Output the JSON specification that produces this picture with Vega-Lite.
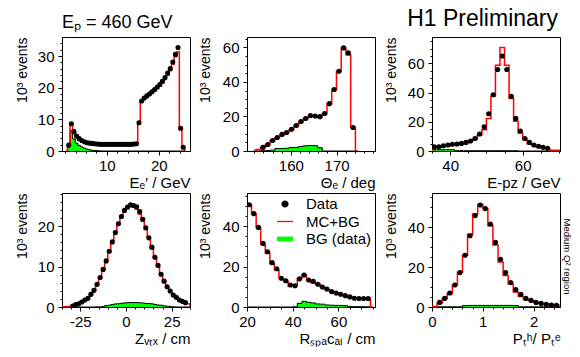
{
 "$schema": "https://vega.github.io/schema/vega-lite/v6.json",
 "background": "white",
 "padding": {"left": 14, "top": 7, "right": 0, "bottom": 0},
 "config": {
  "view": {"stroke": "black", "strokeWidth": 1},
  "font": "Liberation Sans",
  "axis": {"labelFont": "Liberation Sans", "titleFont": "Liberation Sans", "labelFontSize": 15, "titleFontSize": 15, "titleFontWeight": "normal", "labelColor": "black", "titleColor": "black", "tickColor": "black", "domainColor": "black", "grid": false, "labelOverlap": false, "labelFlush": false, "tickWidth": 1, "domainWidth": 1},
  "axisX": {"labelPadding": 3},
  "axisY": {"labelPadding": 4, "titleFontSize": 14},
  "title": {"font": "Liberation Sans", "fontWeight": "normal", "color": "black"}
 },
 "datasets": {
  "e": [
   {"x":2.2,"m":0,"b":0},
   {"x":2.7,"d":1.9,"m":1.9,"b":1.3},
   {"x":3.2,"d":8.6,"m":8.8,"b":6.4},
   {"x":3.7,"d":6.1,"m":6.6,"b":3.8},
   {"x":4.2,"d":4.7,"m":5.0,"b":2.5},
   {"x":4.7,"d":3.9,"m":4.0,"b":1.8},
   {"x":5.2,"d":3.3,"m":3.4,"b":1.3},
   {"x":5.7,"d":2.9,"m":3.0,"b":0.9},
   {"x":6.2,"d":2.6,"m":2.7,"b":0.6},
   {"x":6.7,"d":2.5,"m":2.5,"b":0.4},
   {"x":7.2,"d":2.4,"m":2.3,"b":0.25},
   {"x":7.7,"d":2.3,"m":2.2,"b":0.15},
   {"x":8.2,"d":2.2,"m":2.1,"b":0.1},
   {"x":8.7,"d":2.1,"m":2.1,"b":0.05},
   {"x":9.2,"d":2.1,"m":2.1,"b":0},
   {"x":9.7,"d":2.1,"m":2.1,"b":0},
   {"x":10.2,"d":2.1,"m":2.1,"b":0},
   {"x":10.7,"d":2.1,"m":2.1,"b":0},
   {"x":11.2,"d":2.1,"m":2.1,"b":0},
   {"x":11.7,"d":2.1,"m":2.1,"b":0},
   {"x":12.2,"d":2.1,"m":2.1,"b":0},
   {"x":12.7,"d":2.1,"m":2.1,"b":0},
   {"x":13.2,"d":2.1,"m":2.1,"b":0},
   {"x":13.7,"d":2.1,"m":2.1,"b":0},
   {"x":14.2,"d":2.1,"m":2.1,"b":0},
   {"x":14.7,"d":2.1,"m":2.1,"b":0},
   {"x":15.2,"d":2.2,"m":2.2,"b":0},
   {"x":15.7,"d":2.3,"m":2.3,"b":0},
   {"x":16.2,"d":8.9,"m":8.9,"b":0},
   {"x":16.7,"d":15.8,"m":15.6,"b":0},
   {"x":17.2,"d":16.7,"m":16.4,"b":0},
   {"x":17.7,"d":17.4,"m":17.0,"b":0},
   {"x":18.2,"d":18.0,"m":17.6,"b":0},
   {"x":18.7,"d":18.7,"m":18.3,"b":0},
   {"x":19.2,"d":19.4,"m":19.0,"b":0},
   {"x":19.7,"d":20.2,"m":19.7,"b":0},
   {"x":20.2,"d":21.0,"m":20.5,"b":0},
   {"x":20.7,"d":22.0,"m":21.4,"b":0},
   {"x":21.2,"d":23.2,"m":22.6,"b":0},
   {"x":21.7,"d":24.6,"m":23.9,"b":0},
   {"x":22.2,"d":26.0,"m":25.4,"b":0},
   {"x":22.7,"d":28.1,"m":27.5,"b":0},
   {"x":23.2,"d":30.5,"m":29.8,"b":0},
   {"x":23.7,"d":32.7,"m":31.3,"b":0},
   {"x":24.2,"d":7.2,"m":7.0,"b":0},
   {"x":24.7,"d":1.2,"m":1.0,"b":0},
   {"x":25.2,"m":0,"b":0}
  ],
  "t": [
   {"x":151.83,"m":0,"b":0},
   {"x":152.86,"m":0.8,"b":0},
   {"x":153.9,"d":2.1,"m":2.0,"b":0.2},
   {"x":154.94,"d":3.8,"m":3.6,"b":0.3},
   {"x":155.97,"d":6.1,"m":5.8,"b":0.5},
   {"x":157.01,"d":7.8,"m":7.6,"b":1.4},
   {"x":158.05,"d":9.6,"m":9.3,"b":1.5},
   {"x":159.08,"d":10.7,"m":10.8,"b":1.6},
   {"x":160.12,"d":12.6,"m":12.3,"b":2.0},
   {"x":161.16,"d":14.7,"m":14.5,"b":2.1},
   {"x":162.19,"d":17.1,"m":16.8,"b":2.6},
   {"x":163.23,"d":18.8,"m":18.6,"b":3.0},
   {"x":164.27,"d":20.5,"m":20.0,"b":3.2},
   {"x":165.3,"d":20.3,"m":20.2,"b":3.1},
   {"x":166.34,"d":19.9,"m":19.5,"b":1.9},
   {"x":167.38,"d":21.7,"m":21.5,"b":0},
   {"x":168.42,"d":27.4,"m":27.4,"b":0},
   {"x":169.45,"d":35.6,"m":35.3,"b":0},
   {"x":170.49,"d":46.2,"m":45.9,"b":0},
   {"x":171.53,"d":59.7,"m":59.7,"b":0},
   {"x":172.56,"d":56.8,"m":55.7,"b":0},
   {"x":173.6,"d":13.6,"m":13.6,"b":0},
   {"x":174.64,"m":0,"b":0}
  ],
  "ep": [
   {"x":34.375,"m":0,"b":0},
   {"x":35.625,"d":2.9,"m":2.6,"b":0.9},
   {"x":36.875,"d":2.9,"m":2.8,"b":0.9},
   {"x":38.125,"d":3.6,"m":3.2,"b":0.9},
   {"x":39.375,"d":4.1,"m":3.6,"b":0.9},
   {"x":40.625,"d":4.6,"m":4.0,"b":0.9},
   {"x":41.875,"d":4.8,"m":4.5,"b":0.2},
   {"x":43.125,"d":5.2,"m":5.0,"b":0.2},
   {"x":44.375,"d":5.9,"m":5.6,"b":0.2},
   {"x":45.625,"d":6.8,"m":6.6,"b":0.2},
   {"x":46.875,"d":8.6,"m":8.2,"b":0.2},
   {"x":48.125,"d":11.6,"m":10.9,"b":0.2},
   {"x":49.375,"d":16.6,"m":14.6,"b":0.2},
   {"x":50.625,"d":25.5,"m":22.3,"b":0.2},
   {"x":51.875,"d":38.5,"m":37.4,"b":0.2},
   {"x":53.125,"d":55.8,"m":58.6,"b":0.2},
   {"x":54.375,"d":65.0,"m":70.9,"b":0.2},
   {"x":55.625,"d":55.8,"m":58.6,"b":0.2},
   {"x":56.875,"d":37.4,"m":36.0,"b":0.2},
   {"x":58.125,"d":22.3,"m":20.3,"b":0.2},
   {"x":59.375,"d":13.7,"m":12.3,"b":0},
   {"x":60.625,"d":8.6,"m":7.8,"b":0},
   {"x":61.875,"d":5.9,"m":5.0,"b":0},
   {"x":63.125,"d":4.1,"m":3.7,"b":0},
   {"x":64.375,"d":3.2,"m":2.8,"b":0},
   {"x":65.625,"d":2.5,"m":2.2,"b":0},
   {"x":66.875,"d":1.8,"m":1.6,"b":0},
   {"x":68.125,"m":0.5,"b":0},
   {"x":69.375,"m":0.5,"b":0},
   {"x":70.625,"m":0,"b":0}
  ],
  "z": [
   {"x":-35.83,"m":0,"b":0},
   {"x":-34.17,"m":0,"b":0},
   {"x":-32.5,"m":0.05,"b":0},
   {"x":-30.83,"m":0.15,"b":0},
   {"x":-29.17,"d":0.25,"m":0.3,"b":0},
   {"x":-27.5,"d":0.58,"m":0.5,"b":0},
   {"x":-25.83,"d":0.82,"m":0.8,"b":0},
   {"x":-24.17,"d":1.23,"m":1.1,"b":0},
   {"x":-22.5,"d":1.73,"m":1.6,"b":0},
   {"x":-20.83,"d":2.14,"m":2.2,"b":0},
   {"x":-19.17,"d":3.13,"m":3.0,"b":0},
   {"x":-17.5,"d":4.12,"m":4.0,"b":0},
   {"x":-15.83,"d":5.6,"m":5.4,"b":0.05},
   {"x":-14.17,"d":7.3,"m":7.1,"b":0.05},
   {"x":-12.5,"d":9.3,"m":9.1,"b":0.1},
   {"x":-10.83,"d":11.4,"m":11.4,"b":0.35},
   {"x":-9.17,"d":13.8,"m":13.7,"b":0.45},
   {"x":-7.5,"d":16.1,"m":16.0,"b":0.6},
   {"x":-5.83,"d":18.4,"m":18.3,"b":0.75},
   {"x":-4.17,"d":20.6,"m":20.5,"b":0.8},
   {"x":-2.5,"d":22.4,"m":22.5,"b":0.9},
   {"x":-0.83,"d":23.9,"m":24.0,"b":1.0},
   {"x":0.83,"d":24.7,"m":24.9,"b":1.05},
   {"x":2.5,"d":25.3,"m":25.2,"b":1.1},
   {"x":4.17,"d":25.1,"m":24.7,"b":1.1},
   {"x":5.83,"d":24.8,"m":24.2,"b":1.1},
   {"x":7.5,"d":23.6,"m":23.0,"b":1.05},
   {"x":9.17,"d":21.7,"m":21.3,"b":1.0},
   {"x":10.83,"d":19.6,"m":19.2,"b":0.9},
   {"x":12.5,"d":17.1,"m":17.0,"b":0.85},
   {"x":14.17,"d":14.8,"m":14.5,"b":0.8},
   {"x":15.83,"d":12.3,"m":12.2,"b":0.65},
   {"x":17.5,"d":10.3,"m":10.0,"b":0.5},
   {"x":19.17,"d":8.1,"m":8.0,"b":0.45},
   {"x":20.83,"d":6.4,"m":6.3,"b":0.3},
   {"x":22.5,"d":5.0,"m":4.9,"b":0.2},
   {"x":24.17,"d":3.95,"m":3.8,"b":0.15},
   {"x":25.83,"d":2.96,"m":2.9,"b":0.05},
   {"x":27.5,"d":2.39,"m":2.3,"b":0},
   {"x":29.17,"d":1.73,"m":1.8,"b":0},
   {"x":30.83,"d":1.4,"m":1.4,"b":0},
   {"x":32.5,"d":1.07,"m":1.1,"b":0},
   {"x":34.17,"m":0.8,"b":0},
   {"x":35.83,"m":0,"b":0}
  ],
  "r": [
   {"x":19,"m":0,"b":0},
   {"x":21,"d":50.5,"m":50.5,"b":0},
   {"x":23,"d":46.1,"m":46.0,"b":0},
   {"x":25,"d":39.3,"m":39.3,"b":0},
   {"x":27,"d":31.4,"m":31.0,"b":0},
   {"x":29,"d":27.3,"m":26.5,"b":0},
   {"x":31,"d":21.9,"m":21.4,"b":0},
   {"x":33,"d":18.9,"m":18.3,"b":0},
   {"x":35,"d":14.2,"m":14.2,"b":0},
   {"x":37,"d":13.0,"m":12.6,"b":0},
   {"x":39,"d":10.9,"m":10.2,"b":0},
   {"x":41,"d":10.5,"m":10.5,"b":0.1},
   {"x":43,"d":13.9,"m":14.2,"b":1.8},
   {"x":45,"d":15.8,"m":15.8,"b":2.8},
   {"x":47,"d":13.3,"m":13.3,"b":2.3},
   {"x":49,"d":12.7,"m":11.9,"b":2.0},
   {"x":51,"d":11.2,"m":11.2,"b":1.5},
   {"x":53,"d":9.9,"m":9.9,"b":1.4},
   {"x":55,"d":8.9,"m":8.6,"b":1.0},
   {"x":57,"d":7.6,"m":7.6,"b":0.9},
   {"x":59,"d":6.9,"m":6.9,"b":0.8},
   {"x":61,"d":6.3,"m":6.1,"b":0.8},
   {"x":63,"d":5.6,"m":5.5,"b":0.7},
   {"x":65,"d":5.0,"m":5.0,"b":0.2},
   {"x":67,"d":4.3,"m":4.4,"b":0.2},
   {"x":69,"d":4.2,"m":4.2,"b":0.15},
   {"x":71,"d":4.2,"m":4.2,"b":0.15},
   {"x":73,"d":4.2,"m":4.2,"b":0.1},
   {"x":75,"m":0,"b":0}
  ],
  "pt": [
   {"x":-0.05,"m":0,"b":0},
   {"x":0.05,"m":0.3,"b":0.1},
   {"x":0.15,"d":2.3,"m":2.0,"b":0.1},
   {"x":0.25,"d":4.3,"m":4.3,"b":0.1},
   {"x":0.35,"d":7.0,"m":6.8,"b":0.1},
   {"x":0.45,"d":11.0,"m":11.0,"b":0.1},
   {"x":0.55,"d":17.2,"m":17.4,"b":0.1},
   {"x":0.65,"d":25.9,"m":25.9,"b":0.7},
   {"x":0.75,"d":35.6,"m":36.4,"b":0.8},
   {"x":0.85,"d":45.7,"m":46.5,"b":0.8},
   {"x":0.95,"d":51.0,"m":51.3,"b":0.8},
   {"x":1.05,"d":49.2,"m":49.2,"b":0.8},
   {"x":1.15,"d":41.5,"m":40.6,"b":0.8},
   {"x":1.25,"d":32.3,"m":31.0,"b":0.8},
   {"x":1.35,"d":23.9,"m":22.5,"b":0.8},
   {"x":1.45,"d":17.2,"m":15.8,"b":0.8},
   {"x":1.55,"d":12.2,"m":11.5,"b":0.8},
   {"x":1.65,"d":8.7,"m":7.5,"b":0.7},
   {"x":1.75,"d":6.3,"m":5.3,"b":0.1},
   {"x":1.85,"d":4.3,"m":3.7,"b":0.1},
   {"x":1.95,"d":3.3,"m":3.2,"b":0.1},
   {"x":2.05,"d":2.3,"m":2.3,"b":0.1},
   {"x":2.15,"d":1.8,"m":1.8,"b":0.1},
   {"x":2.25,"d":1.3,"m":1.5,"b":0.1},
   {"x":2.35,"d":1.0,"m":1.2,"b":0.1},
   {"x":2.45,"d":0.8,"m":1.0,"b":0.1},
   {"x":2.55,"m":0,"b":0}
  ],
  "leg": [{"k":"Data"},{"k":"MC+BG"},{"k":"BG (data)"}]
 },
 "columns": 3,
 "spacing": {"row": 42, "column": 57},
 "bounds": "flush",
 "resolve": {"scale": {"color": "independent", "shape": "independent"}},
 "concat": [
    {
     "width": 128, "height": 114,
     "data": {"name": "e"},
     "title": {"text": "Eₚ = 460 GeV", "anchor": "start", "frame": "group", "fontSize": 18, "baseline": "alphabetic", "offset": -9},
     "layer": [
      {"mark": {"type": "area", "interpolate": "step", "color": "#00ff00", "clip": true},
       "encoding": {
        "x": {"field": "x", "type": "quantitative", "scale": {"domain": [1.4, 26], "nice": false, "zero": false}, "axis": {"orient": "bottom", "values": [10, 20], "title": "Eₑ′ / GeV", "tickSize": 4, "titleAnchor": "end", "titlePadding": 2}},
        "y": {"field": "b", "type": "quantitative", "scale": {"domain": [0, 36], "nice": false}, "axis": {"orient": "left", "values": [0, 10, 20, 30], "title": "10³ events", "tickSize": 4, "titleAnchor": "end", "titlePadding": 8}}}},
      {"mark": {"type": "line", "interpolate": "step", "color": "black", "strokeWidth": 1, "clip": true},
       "encoding": {
        "x": {"field": "x", "type": "quantitative", "axis": {"orient": "bottom", "values": [2, 4, 6, 8, 12, 14, 16, 18, 22, 24], "labels": false, "domain": false, "title": null, "tickSize": 2}},
        "y": {"field": "b", "type": "quantitative", "axis": {"orient": "left", "values": [2, 4, 6, 8, 12, 14, 16, 18, 22, 24, 26, 28, 32, 34], "labels": false, "domain": false, "title": null, "tickSize": 2}}}},
      {"mark": {"type": "line", "interpolate": "step", "color": "#ff0000", "strokeWidth": 1.5, "clip": true},
       "encoding": {"x": {"field": "x", "type": "quantitative", "axis": null}, "y": {"field": "m", "type": "quantitative", "axis": null}}},
      {"mark": {"type": "circle", "color": "black", "size": 26, "opacity": 1, "clip": true},
       "encoding": {"x": {"field": "x", "type": "quantitative", "axis": null}, "y": {"field": "d", "type": "quantitative", "axis": null}}}
     ],
     "resolve": {"axis": {"x": "independent", "y": "independent"}}
    },
    {
     "width": 128, "height": 114,
     "data": {"name": "t"},
     "layer": [
      {"mark": {"type": "area", "interpolate": "step", "color": "#00ff00", "clip": true},
       "encoding": {
        "x": {"field": "x", "type": "quantitative", "scale": {"domain": [150.4, 178.4], "nice": false, "zero": false}, "axis": {"orient": "bottom", "values": [160, 170], "title": "Θₑ / deg", "tickSize": 4, "titleAnchor": "end", "titlePadding": 2}},
        "y": {"field": "b", "type": "quantitative", "scale": {"domain": [0, 66], "nice": false}, "axis": {"orient": "left", "values": [0, 20, 40, 60], "title": "10³ events", "tickSize": 4, "titleAnchor": "end", "titlePadding": 10}}}},
      {"mark": {"type": "line", "interpolate": "step", "color": "black", "strokeWidth": 1, "clip": true},
       "encoding": {
        "x": {"field": "x", "type": "quantitative", "axis": {"orient": "bottom", "values": [152, 154, 156, 158, 162, 164, 166, 168, 172, 174, 176, 178], "labels": false, "domain": false, "title": null, "tickSize": 2}},
        "y": {"field": "b", "type": "quantitative", "axis": {"orient": "left", "values": [5, 10, 15, 25, 30, 35, 45, 50, 55, 65], "labels": false, "domain": false, "title": null, "tickSize": 2}}}},
      {"mark": {"type": "line", "interpolate": "step", "color": "#ff0000", "strokeWidth": 1.5, "clip": true},
       "encoding": {"x": {"field": "x", "type": "quantitative", "axis": null}, "y": {"field": "m", "type": "quantitative", "axis": null}}},
      {"mark": {"type": "circle", "color": "black", "size": 26, "opacity": 1, "clip": true},
       "encoding": {"x": {"field": "x", "type": "quantitative", "axis": null}, "y": {"field": "d", "type": "quantitative", "axis": null}}}
     ],
     "resolve": {"axis": {"x": "independent", "y": "independent"}}
    },
    {
     "width": 128, "height": 114,
     "data": {"name": "ep"},
     "title": {"text": "H1 Preliminary", "anchor": "end", "frame": "group", "fontSize": 23, "baseline": "alphabetic", "offset": -12, "dx": -2},
     "layer": [
      {"mark": {"type": "area", "interpolate": "step", "color": "#00ff00", "clip": true},
       "encoding": {
        "x": {"field": "x", "type": "quantitative", "scale": {"domain": [35, 70.3], "nice": false, "zero": false}, "axis": {"orient": "bottom", "values": [40, 60], "title": "E-pᴢ / GeV", "tickSize": 4, "titleAnchor": "end", "titlePadding": 2}},
        "y": {"field": "b", "type": "quantitative", "scale": {"domain": [0, 78], "nice": false}, "axis": {"orient": "left", "values": [0, 20, 40, 60], "title": "10³ events", "tickSize": 4, "titleAnchor": "end", "titlePadding": 9}}}},
      {"mark": {"type": "line", "interpolate": "step", "color": "black", "strokeWidth": 1, "clip": true},
       "encoding": {
        "x": {"field": "x", "type": "quantitative", "axis": {"orient": "bottom", "values": [35, 45, 50, 55, 65, 70], "labels": false, "domain": false, "title": null, "tickSize": 2}},
        "y": {"field": "b", "type": "quantitative", "axis": {"orient": "left", "values": [5, 10, 15, 25, 30, 35, 45, 50, 55, 65, 70, 75], "labels": false, "domain": false, "title": null, "tickSize": 2}}}},
      {"mark": {"type": "line", "interpolate": "step", "color": "#ff0000", "strokeWidth": 1.5, "clip": true},
       "encoding": {"x": {"field": "x", "type": "quantitative", "axis": null}, "y": {"field": "m", "type": "quantitative", "axis": null}}},
      {"mark": {"type": "circle", "color": "black", "size": 26, "opacity": 1, "clip": true},
       "encoding": {"x": {"field": "x", "type": "quantitative", "axis": null}, "y": {"field": "d", "type": "quantitative", "axis": null}}}
     ],
     "resolve": {"axis": {"x": "independent", "y": "independent"}}
    },
    {
     "width": 128, "height": 114,
     "data": {"name": "z"},
     "layer": [
      {"mark": {"type": "area", "interpolate": "step", "color": "#00ff00", "clip": true},
       "encoding": {
        "x": {"field": "x", "type": "quantitative", "scale": {"domain": [-35, 35], "nice": false, "zero": false}, "axis": {"orient": "bottom", "values": [-25, 0, 25], "labelExpr": "toString(datum.value)", "title": "Zᵥₜₓ / cm", "tickSize": 4, "titleAnchor": "end", "titlePadding": 2}},
        "y": {"field": "b", "type": "quantitative", "scale": {"domain": [0, 28.2], "nice": false}, "axis": {"orient": "left", "values": [0, 10, 20], "title": "10³ events", "tickSize": 4, "titleAnchor": "end", "titlePadding": 8}}}},
      {"mark": {"type": "line", "interpolate": "step", "color": "black", "strokeWidth": 1, "clip": true},
       "encoding": {
        "x": {"field": "x", "type": "quantitative", "axis": {"orient": "bottom", "values": [-35, -30, -20, -15, -10, -5, 5, 10, 15, 20, 30, 35], "labels": false, "domain": false, "title": null, "tickSize": 2}},
        "y": {"field": "b", "type": "quantitative", "axis": {"orient": "left", "values": [2, 4, 6, 8, 12, 14, 16, 18, 22, 24, 26, 28], "labels": false, "domain": false, "title": null, "tickSize": 2}}}},
      {"mark": {"type": "line", "interpolate": "step", "color": "#ff0000", "strokeWidth": 1.5, "clip": true},
       "encoding": {"x": {"field": "x", "type": "quantitative", "axis": null}, "y": {"field": "m", "type": "quantitative", "axis": null}}},
      {"mark": {"type": "circle", "color": "black", "size": 26, "opacity": 1, "clip": true},
       "encoding": {"x": {"field": "x", "type": "quantitative", "axis": null}, "y": {"field": "d", "type": "quantitative", "axis": null}}}
     ],
     "resolve": {"axis": {"x": "independent", "y": "independent"}}
    },
    {
     "width": 128, "height": 114,
     "data": {"name": "r"},
     "layer": [
      {"mark": {"type": "area", "interpolate": "step", "color": "#00ff00", "clip": true},
       "encoding": {
        "x": {"field": "x", "type": "quantitative", "scale": {"domain": [20, 76], "nice": false, "zero": false}, "axis": {"orient": "bottom", "values": [20, 40, 60], "title": "Rₛₚₐcₐₗ / cm", "tickSize": 4, "titleAnchor": "end", "titlePadding": 2}},
        "y": {"field": "b", "type": "quantitative", "scale": {"domain": [0, 56.3], "nice": false}, "axis": {"orient": "left", "values": [0, 20, 40], "title": "10³ events", "tickSize": 4, "titleAnchor": "end", "titlePadding": 10}}}},
      {"mark": {"type": "line", "interpolate": "step", "color": "black", "strokeWidth": 1, "clip": true},
       "encoding": {
        "x": {"field": "x", "type": "quantitative", "axis": {"orient": "bottom", "values": [25, 30, 35, 45, 50, 55, 65, 70, 75], "labels": false, "domain": false, "title": null, "tickSize": 2}},
        "y": {"field": "b", "type": "quantitative", "axis": {"orient": "left", "values": [5, 10, 15, 25, 30, 35, 45, 50, 55], "labels": false, "domain": false, "title": null, "tickSize": 2}}}},
      {"mark": {"type": "line", "interpolate": "step", "color": "#ff0000", "strokeWidth": 1.5, "clip": true},
       "encoding": {"x": {"field": "x", "type": "quantitative", "axis": null}, "y": {"field": "m", "type": "quantitative", "axis": null}}},
      {"mark": {"type": "circle", "color": "black", "size": 26, "opacity": 1, "clip": true},
       "encoding": {"x": {"field": "x", "type": "quantitative", "axis": null}, "y": {"field": "d", "type": "quantitative", "axis": null}}},
      {"data": {"name": "leg"},
       "mark": {"type": "point", "filled": true, "opacity": 1},
       "encoding": {
        "x": {"field": "x", "type": "quantitative", "axis": null},
        "y": {"field": "y", "type": "quantitative", "axis": null},
        "color": {"field": "k", "type": "nominal", "scale": {"domain": ["Data", "MC+BG", "BG (data)"], "range": ["black", "#ff0000", "#00ff00"]},
         "legend": {"orient": "none", "legendX": 30, "legendY": 3, "title": null, "labelFontSize": 15, "labelFont": "Liberation Sans", "labelColor": "black", "symbolSize": 256, "symbolStrokeWidth": 0, "labelOffset": 13, "rowPadding": 1.5, "padding": 0}},
        "shape": {"field": "k", "type": "nominal", "scale": {"domain": ["Data", "MC+BG", "BG (data)"], "range": ["M-0.45,0A0.45,0.45,0,1,1,0.45,0A0.45,0.45,0,1,1,-0.45,0Z", "M-1,-0.08H1V0.08H-1Z", "M-1,-0.3H1V0.3H-1Z"]}}
       }}
     ],
     "resolve": {"axis": {"x": "independent", "y": "independent"}}
    },
    {
     "width": 128, "height": 114,
     "data": {"name": "pt"},
     "layer": [
      {"mark": {"type": "area", "interpolate": "step", "color": "#00ff00", "clip": true},
       "encoding": {
        "x": {"field": "x", "type": "quantitative", "scale": {"domain": [0, 2.52], "nice": false, "zero": false}, "axis": {"orient": "bottom", "values": [0, 1, 2], "format": "d", "title": "Pₜʰ/ Pₜᵉ", "tickSize": 4, "titleAnchor": "end", "titlePadding": 2}},
        "y": {"field": "b", "type": "quantitative", "scale": {"domain": [0, 57], "nice": false}, "axis": {"orient": "left", "values": [0, 20, 40], "title": "10³ events", "tickSize": 4, "titleAnchor": "end", "titlePadding": 9}}}},
      {"mark": {"type": "line", "interpolate": "step", "color": "black", "strokeWidth": 1, "clip": true},
       "encoding": {
        "x": {"field": "x", "type": "quantitative", "axis": {"orient": "bottom", "values": [0.2, 0.4, 0.6, 0.8, 1.2, 1.4, 1.6, 1.8, 2.2, 2.4], "labels": false, "domain": false, "title": null, "tickSize": 2}},
        "y": {"field": "b", "type": "quantitative", "axis": {"orient": "left", "values": [5, 10, 15, 25, 30, 35, 45, 50, 55], "labels": false, "domain": false, "title": null, "tickSize": 2}}}},
      {"mark": {"type": "line", "interpolate": "step", "color": "#ff0000", "strokeWidth": 1.5, "clip": true},
       "encoding": {"x": {"field": "x", "type": "quantitative", "axis": null}, "y": {"field": "m", "type": "quantitative", "axis": {"orient": "right", "title": "Medium Q² region", "labels": false, "ticks": false, "domain": false, "titleFontSize": 9.5, "titlePadding": 1, "titleAnchor": "middle", "titleY": 63}}}},
      {"mark": {"type": "circle", "color": "black", "size": 26, "opacity": 1, "clip": true},
       "encoding": {"x": {"field": "x", "type": "quantitative", "axis": null}, "y": {"field": "d", "type": "quantitative", "axis": null}}}
     ],
     "resolve": {"axis": {"x": "independent", "y": "independent"}}
    }
 ]
}
